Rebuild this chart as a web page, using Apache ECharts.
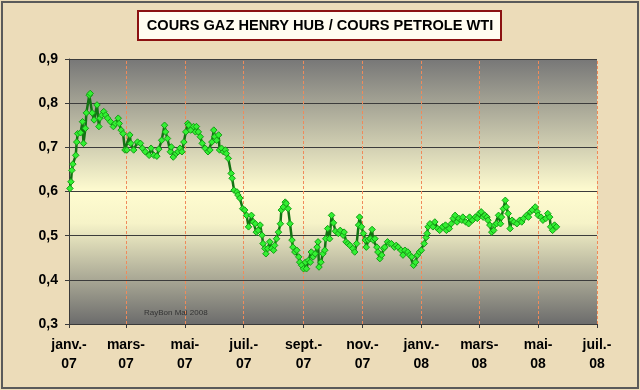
<!DOCTYPE html>
<html>
<head>
<meta charset="utf-8">
<script src="https://cdn.jsdelivr.net/npm/echarts@6/dist/echarts.min.js"></script>
<style>
html,body{margin:0;padding:0;background:#ecdcb9;}
#chart{width:640px;height:390px;}
</style>
</head>
<body>
<div id="chart"></div>
<script>
const chartTitle = 'COURS GAZ HENRY HUB / COURS PETROLE WTI';
const watermark = 'RayBon Mai 2008';
const xTickDates = ['2007-01-01','2007-03-01','2007-05-01','2007-07-01','2007-09-01','2007-11-01','2008-01-01','2008-03-01','2008-05-01','2008-07-01'];
const xTickLabels = ['janv.-\n07','mars-\n07','mai-\n07','juil.-\n07','sept.-\n07','nov.-\n07','janv.-\n08','mars-\n08','mai-\n08','juil.-\n08'];
const yMin = 0.3, yMax = 0.9, yStep = 0.1;

// Ratio gas Henry Hub / oil WTI
const ratioPoints = [
 ['2007-01-02',0.607],['2007-01-03',0.622],['2007-01-04',0.648],['2007-01-05',0.662],['2007-01-08',0.682],
 ['2007-01-09',0.712],['2007-01-10',0.731],['2007-01-13',0.733],['2007-01-15',0.758],['2007-01-16',0.709],
 ['2007-01-18',0.743],['2007-01-19',0.778],['2007-01-22',0.818],['2007-01-23',0.822],['2007-01-25',0.778],
 ['2007-01-27',0.762],['2007-01-30',0.796],
 ['2007-02-01',0.747],['2007-02-02',0.766],['2007-02-04',0.773],['2007-02-06',0.781],['2007-02-08',0.773],
 ['2007-02-10',0.766],['2007-02-13',0.758],['2007-02-16',0.747],['2007-02-18',0.754],['2007-02-21',0.766],
 ['2007-02-22',0.754],['2007-02-24',0.739],['2007-02-26',0.731],['2007-02-28',0.694],
 ['2007-03-02',0.694],['2007-03-05',0.728],['2007-03-06',0.709],['2007-03-09',0.694],['2007-03-13',0.712],
 ['2007-03-16',0.709],['2007-03-18',0.698],['2007-03-21',0.690],['2007-03-25',0.682],['2007-03-27',0.698],
 ['2007-03-30',0.682],
 ['2007-04-02',0.680],['2007-04-04',0.696],['2007-04-07',0.716],['2007-04-10',0.750],['2007-04-11',0.735],
 ['2007-04-13',0.720],['2007-04-16',0.690],['2007-04-17',0.701],['2007-04-19',0.678],['2007-04-22',0.686],
 ['2007-04-24',0.690],['2007-04-26',0.698],['2007-04-28',0.690],['2007-04-30',0.712],
 ['2007-05-02',0.735],['2007-05-04',0.754],['2007-05-05',0.750],['2007-05-07',0.739],['2007-05-10',0.747],
 ['2007-05-12',0.735],['2007-05-13',0.747],['2007-05-15',0.735],['2007-05-17',0.724],['2007-05-19',0.709],
 ['2007-05-22',0.698],['2007-05-25',0.690],['2007-05-27',0.694],['2007-05-29',0.712],['2007-05-31',0.739],
 ['2007-06-01',0.724],['2007-06-03',0.716],['2007-06-05',0.728],['2007-06-06',0.694],['2007-06-08',0.698],
 ['2007-06-10',0.690],['2007-06-12',0.694],['2007-06-13',0.686],['2007-06-15',0.675],['2007-06-18',0.641],
 ['2007-06-19',0.630],['2007-06-21',0.603],['2007-06-24',0.599],['2007-06-25',0.592],['2007-06-27',0.585],
 ['2007-06-30',0.561],
 ['2007-07-02',0.558],['2007-07-04',0.546],['2007-07-06',0.520],['2007-07-09',0.546],['2007-07-11',0.531],
 ['2007-07-13',0.527],['2007-07-14',0.508],['2007-07-16',0.512],['2007-07-18',0.524],['2007-07-20',0.501],
 ['2007-07-21',0.482],['2007-07-23',0.471],['2007-07-24',0.459],['2007-07-26',0.471],['2007-07-28',0.486],
 ['2007-07-30',0.471],
 ['2007-08-01',0.467],['2007-08-02',0.478],['2007-08-04',0.493],['2007-08-06',0.508],['2007-08-08',0.527],
 ['2007-08-09',0.558],['2007-08-11',0.565],['2007-08-13',0.576],['2007-08-14',0.573],['2007-08-16',0.561],
 ['2007-08-18',0.527],['2007-08-20',0.490],['2007-08-21',0.474],['2007-08-23',0.463],['2007-08-25',0.467],
 ['2007-08-27',0.452],['2007-08-28',0.440],['2007-08-30',0.433],
 ['2007-09-01',0.425],['2007-09-03',0.440],['2007-09-04',0.425],['2007-09-06',0.444],['2007-09-08',0.440],
 ['2007-09-09',0.463],['2007-09-11',0.452],['2007-09-13',0.459],['2007-09-15',0.474],['2007-09-16',0.486],
 ['2007-09-17',0.429],['2007-09-19',0.440],['2007-09-21',0.459],['2007-09-23',0.467],['2007-09-24',0.493],
 ['2007-09-26',0.516],['2007-09-28',0.493],['2007-09-30',0.546],
 ['2007-10-02',0.529],['2007-10-04',0.510],['2007-10-07',0.505],['2007-10-09',0.512],['2007-10-12',0.501],
 ['2007-10-13',0.508],['2007-10-15',0.486],['2007-10-17',0.482],['2007-10-19',0.478],['2007-10-22',0.471],
 ['2007-10-24',0.463],['2007-10-26',0.482],['2007-10-28',0.524],['2007-10-29',0.542],['2007-10-31',0.520],
 ['2007-11-02',0.505],['2007-11-04',0.490],['2007-11-05',0.474],['2007-11-07',0.490],['2007-11-09',0.493],
 ['2007-11-11',0.514],['2007-11-12',0.490],['2007-11-14',0.493],['2007-11-16',0.474],['2007-11-17',0.463],
 ['2007-11-19',0.448],['2007-11-21',0.456],['2007-11-23',0.471],['2007-11-24',0.474],['2007-11-27',0.486],
 ['2007-11-29',0.482],
 ['2007-12-01',0.482],['2007-12-04',0.474],['2007-12-06',0.478],['2007-12-08',0.474],['2007-12-11',0.467],
 ['2007-12-13',0.456],['2007-12-15',0.467],['2007-12-18',0.463],['2007-12-20',0.456],['2007-12-22',0.452],
 ['2007-12-24',0.433],['2007-12-26',0.440],['2007-12-28',0.456],['2007-12-30',0.463],
 ['2008-01-01',0.467],['2008-01-04',0.482],['2008-01-06',0.496],['2008-01-07',0.505],['2008-01-08',0.520],
 ['2008-01-10',0.527],['2008-01-13',0.520],['2008-01-15',0.531],['2008-01-18',0.516],['2008-01-20',0.512],
 ['2008-01-23',0.520],['2008-01-26',0.524],['2008-01-27',0.512],['2008-01-30',0.516],
 ['2008-02-01',0.527],['2008-02-03',0.539],['2008-02-05',0.546],['2008-02-07',0.531],['2008-02-09',0.539],
 ['2008-02-12',0.535],['2008-02-13',0.542],['2008-02-16',0.531],['2008-02-19',0.527],['2008-02-20',0.542],
 ['2008-02-23',0.535],['2008-02-26',0.542],['2008-02-28',0.539],
 ['2008-03-01',0.550],['2008-03-03',0.554],['2008-03-05',0.542],['2008-03-07',0.546],['2008-03-09',0.542],
 ['2008-03-10',0.535],['2008-03-12',0.524],['2008-03-14',0.508],['2008-03-16',0.512],['2008-03-17',0.524],
 ['2008-03-19',0.527],['2008-03-21',0.546],['2008-03-23',0.527],['2008-03-24',0.542],['2008-03-26',0.561],
 ['2008-03-28',0.580],['2008-03-29',0.565],['2008-03-31',0.550],
 ['2008-04-02',0.516],['2008-04-04',0.535],['2008-04-06',0.531],['2008-04-09',0.527],['2008-04-12',0.535],
 ['2008-04-14',0.531],['2008-04-16',0.539],['2008-04-19',0.546],['2008-04-21',0.542],['2008-04-23',0.554],
 ['2008-04-25',0.558],['2008-04-28',0.565],['2008-04-30',0.554],
 ['2008-05-01',0.546],['2008-05-04',0.542],['2008-05-06',0.535],['2008-05-09',0.539],['2008-05-11',0.550],
 ['2008-05-13',0.542],['2008-05-14',0.520],['2008-05-16',0.512],['2008-05-18',0.524],['2008-05-20',0.520]
];

function parseDay(s){ const p = s.split('-').map(Number); return new Date(p[0], p[1]-1, p[2]).getTime(); }
const tickTs = xTickDates.map(parseDay);
const seriesData = ratioPoints.map(p => [parseDay(p[0]), p[1]]);

const chart = echarts.init(document.getElementById('chart'), null, {renderer:'canvas'});
const FONT = '"Liberation Sans", Arial, sans-serif';

chart.setOption({
  backgroundColor: '#ecdcb9',
  animation: false,
  grid: {
    left: 69, right: 43, top: 59, bottom: 66,
    show: true, borderWidth: 0,
    backgroundColor: {
      type: 'linear', x: 0, y: 0, x2: 0, y2: 1,
      colorStops: [
        {offset: 0, color: '#777777'},
        {offset: 0.5, color: '#fffcd0'},
        {offset: 0.62, color: '#f6f3c8'},
        {offset: 1, color: '#6c6c6c'}
      ]
    }
  },
  xAxis: {
    type: 'value',
    min: tickTs[0], max: tickTs[tickTs.length-1],
    axisLine: {show: true, onZero: false, lineStyle: {color: '#3a3a3a', width: 1}},
    axisTick: {show: true, customValues: tickTs, length: 4, lineStyle: {color: '#3a3a3a'}},
    axisLabel: {
      customValues: tickTs,
      formatter: function(v){ const i = tickTs.indexOf(v); return i >= 0 ? xTickLabels[i] : ''; },
      color: '#000', fontWeight: 'bold', fontSize: 14, fontFamily: FONT,
      lineHeight: 19, margin: 12, hideOverlap: false
    },
    splitLine: {show: false}
  },
  yAxis: {
    type: 'value', min: yMin, max: yMax, interval: yStep,
    axisLine: {show: true, lineStyle: {color: '#3a3a3a', width: 1}},
    axisTick: {show: true, length: 4, lineStyle: {color: '#3a3a3a'}},
    axisLabel: {
      formatter: v => v.toFixed(1).replace('.', ','),
      color: '#000', fontWeight: 'bold', fontSize: 14, fontFamily: FONT, margin: 11
    },
    splitLine: {show: true, lineStyle: {color: '#3c3c3c', width: 1}}
  },
  series: [{
    type: 'line',
    data: [],
    silent: true,
    z: 1,
    markLine: {
      silent: true, symbol: 'none', animation: false,
      label: {show: false},
      lineStyle: {color: '#f08a5a', type: [3, 2], width: 1},
      data: tickTs.slice(1).map(t => ({xAxis: t}))
    }
  }, {
    type: 'line',
    data: seriesData,
    symbol: 'diamond',
    symbolSize: 6.5,
    showAllSymbol: true,
    lineStyle: {color: '#137313', width: 2.5},
    itemStyle: {color: '#33f033', borderColor: '#159e15', borderWidth: 1},
    z: 5
  }],
  graphic: [
    {type: 'rect', shape: {x: 2, y: 2, width: 636, height: 386}, style: {fill: 'none', stroke: '#5a5a5a', lineWidth: 2}, silent: true, z: 100},
    {type: 'rect', shape: {x: 138, y: 11, width: 363, height: 29}, style: {fill: '#fffcf0', stroke: '#8b1111', lineWidth: 2}, z: 50},
    {type: 'text', x: 320, y: 26, style: {text: chartTitle, fill: '#000', font: 'bold 14.6px ' + FONT, textAlign: 'center', textVerticalAlign: 'middle'}, z: 51},
    {type: 'text', x: 144, y: 313, style: {text: watermark, fill: '#333', font: '8px ' + FONT, textAlign: 'left', textVerticalAlign: 'middle'}, z: 51}
  ]
});
</script>
</body>
</html>
